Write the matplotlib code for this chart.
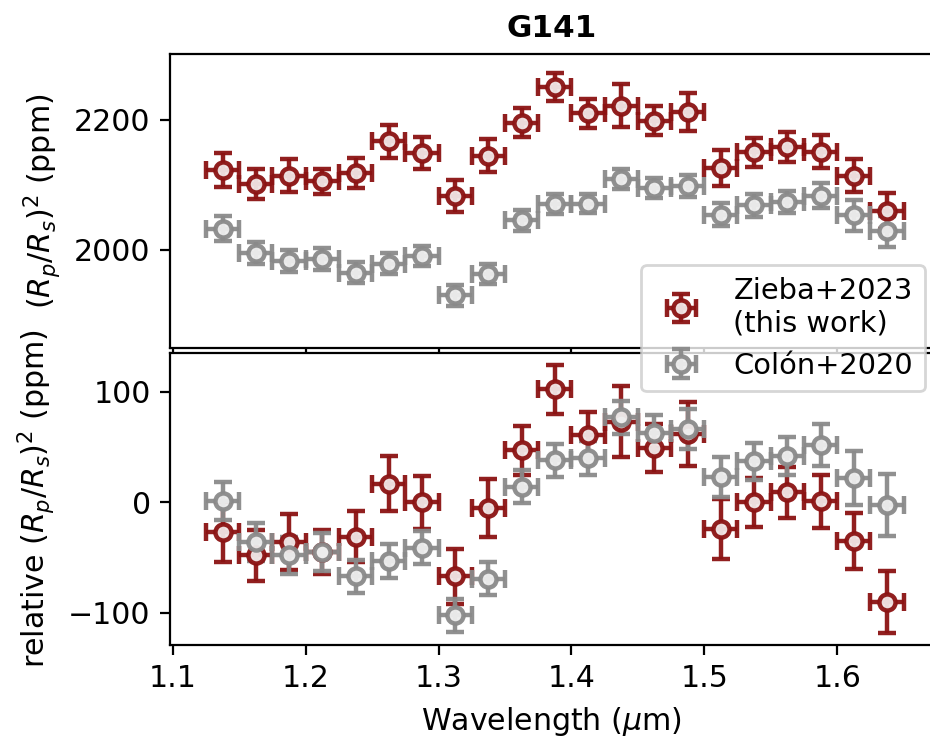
import numpy as np
import matplotlib
matplotlib.use("Agg")
import matplotlib.pyplot as plt

# wavelength bins (um)
wave = [1.1375, 1.1625, 1.1875, 1.2125, 1.2375, 1.2625, 1.2875, 1.3125, 1.3375, 1.3625,
        1.3875, 1.4125, 1.4375, 1.4625, 1.4875, 1.5125, 1.5375, 1.5625, 1.5875, 1.6125, 1.6375]
wave_err = [0.0125] * len(wave)

# transit depth (ppm)
zieba_depth = [2123, 2101, 2114, 2105, 2118, 2167, 2149, 2083, 2145, 2196,
               2251, 2210, 2222, 2199, 2212, 2126, 2150, 2158, 2151, 2114, 2059]
zieba_depth_err = [26, 23, 26, 20, 23, 25, 24, 25, 26, 22,
                   22, 22, 33, 23, 29, 28, 22, 23, 25, 25, 28]
colon_depth = [2032, 1995, 1983, 1986, 1964, 1978, 1990, 1929, 1962, 2045,
               2070, 2071, 2109, 2095, 2098, 2054, 2068, 2073, 2083, 2053, 2028]
colon_depth_err = [19, 17, 17, 17, 16, 16, 16, 16, 16, 16,
                   15, 15, 15, 16, 17, 18, 18, 17, 19, 24, 24]

# relative depth (ppm)
zieba_rel = [-27, -48, -36, -45, -31, 17, 0, -67, -5, 47,
             102, 61, 73, 49, 62, -24, 0, 9, 1, -35, -90]
zieba_rel_err = [27, 23, 25, 20, 23, 25, 24, 25, 26, 22,
                 22, 21, 32, 22, 29, 27, 22, 23, 24, 25, 28]
colon_rel = [1, -36, -48, -45, -67, -53, -41, -102, -69, 14,
             38, 40, 77, 63, 66, 23, 37, 42, 52, 22, -2]
colon_rel_err = [17, 17, 17, 17, 15, 15, 15, 15, 15, 15,
                 15, 15, 15, 16, 18, 18, 17, 17, 19, 24, 28]

plt.rcParams['font.size'] = 10.8

red = '#8b1313'
grey = '#8a8a8a'
style = dict(fmt='o', ms=5.8, mew=1.6, elinewidth=1.6, capsize=3.2, capthick=1.6, alpha=0.95)

fig = plt.figure(figsize=(4.65, 3.69), dpi=200)
ax1 = fig.add_axes([0.183, 0.5285, 0.82, 0.3985])
ax2 = fig.add_axes([0.183, 0.126, 0.82, 0.3957], sharex=ax1)

ax1.errorbar(wave, zieba_depth, xerr=wave_err, yerr=zieba_depth_err, color=red,
             mfc='#f1e6e6', mec=red, label='Zieba+2023\n(this work)', **style)
ax1.errorbar(wave, colon_depth, xerr=wave_err, yerr=colon_depth_err, color=grey,
             mfc='#eeeeee', mec=grey, label='Colón+2020', **style)

ax2.errorbar(wave, zieba_rel, xerr=wave_err, yerr=zieba_rel_err, color=red,
             mfc='#f1e6e6', mec=red, label='Zieba+2023\n(this work)', **style)
ax2.errorbar(wave, colon_rel, xerr=wave_err, yerr=colon_rel_err, color=grey,
             mfc='#eeeeee', mec=grey, label='Colón+2020', **style)

ax1.set_xlim(1.098, 1.672)
ax1.set_ylim(1848, 2302)
ax2.set_ylim(-129, 135)
ax1.set_yticks([2000, 2200])
ax2.set_yticks([-100, 0, 100])
ax2.set_xticks([1.1, 1.2, 1.3, 1.4, 1.5, 1.6])
ax1.tick_params(labelbottom=False)

ax1.set_title('G141', fontweight='bold', fontsize=11.2)
ax1.set_ylabel(r'$(R_p/R_s)^2$ (ppm)')
ax2.set_ylabel(r'relative $(R_p/R_s)^2$ (ppm)')
ax2.set_xlabel(r'Wavelength ($\mu$m)')

ax2.legend(loc='upper right', bbox_to_anchor=(0.993, 1.31), borderaxespad=0.1,
           fontsize=10.4)

fig.savefig('out.png', dpi=200)
